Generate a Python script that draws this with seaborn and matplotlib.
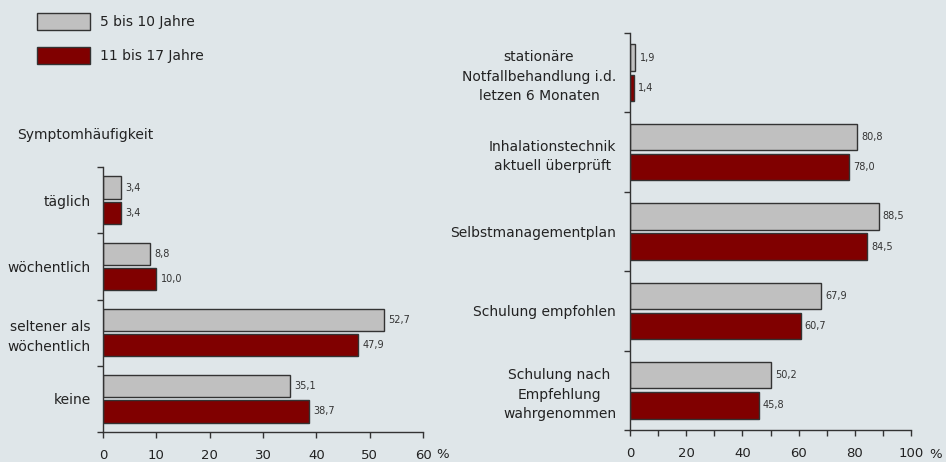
import matplotlib
matplotlib.use("Agg")
import matplotlib.pyplot as plt
from matplotlib.patches import Patch
import numpy as np
import pandas as pd
import seaborn as sns

# --------- Daten ---------
gruppen = ["5 bis 10 Jahre", "11 bis 17 Jahre"]

kat_links = ["täglich", "wöchentlich", "seltener als\nwöchentlich", "keine"]
jung_links = [3.4, 8.8, 52.7, 35.1]
alt_links = [3.4, 10.0, 47.9, 38.7]

kat_rechts = [
    "stationäre\nNotfallbehandlung i.d.\nletzen 6 Monaten",
    "Inhalationstechnik\naktuell überprüft",
    "Selbstmanagementplan",
    "Schulung empfohlen",
    "Schulung nach\nEmpfehlung\nwahrgenommen",
]
jung_rechts = [1.9, 80.8, 88.5, 67.9, 50.2]
alt_rechts = [1.4, 78.0, 84.5, 60.7, 45.8]

farben = {gruppen[0]: "#c0c0c0", gruppen[1]: "#800000"}
hintergrund = "#dfe6e9"
kante = "#333333"


def long_df(kat, jung, alt):
    return pd.DataFrame({
        "kategorie": kat * 2,
        "wert": jung + alt,
        "gruppe": [gruppen[0]] * len(kat) + [gruppen[1]] * len(kat),
    })


sns.set_style("ticks")
plt.rcParams["font.family"] = ["DejaVu Sans"]

fig = plt.figure(figsize=(9.46, 4.62), dpi=100, facecolor=hintergrund)
ax1 = fig.add_axes([103 / 946, 1 - 432 / 462, 320 / 946, 265 / 462])
ax2 = fig.add_axes([630 / 946, 1 - 430 / 462, 281 / 946, 397 / 462])


def zeichne(ax, df, kat, xmax, major, minor, ml):
    ax.set_facecolor(hintergrund)
    sns.barplot(data=df, y="kategorie", x="wert", hue="gruppe", order=kat,
                hue_order=gruppen, palette=farben, saturation=1, orient="h",
                width=0.76, gap=0.12, edgecolor=kante, linewidth=1,
                legend=False, ax=ax)
    for cont in ax.containers:
        ax.bar_label(cont, labels=[f"{v:.1f}".replace(".", ",") for v in cont.datavalues],
                     padding=3, fontsize=7, color="#333333")
    ax.set_xlim(0, xmax)
    ax.set_ylim(len(kat) - 0.5, -0.5)
    ax.set_xticks(major)
    if minor is not None:
        ax.set_xticks(minor, minor=True)
    ax.set_yticks(range(len(kat)))
    ax.set_yticklabels(kat, fontsize=10, color="#222222", multialignment=ml,
                       linespacing=1.5)
    ax.set_yticks(np.arange(-0.5, len(kat), 1), minor=True)
    ax.tick_params(axis="y", which="major", length=0, pad=9)
    ax.tick_params(axis="y", which="minor", length=4, width=1, color=kante)
    ax.tick_params(axis="x", which="both", length=4, width=1, color=kante,
                   labelsize=9.5, labelcolor="#222222", pad=8)
    ax.set_xlabel("")
    ax.set_ylabel("")
    sns.despine(ax=ax)
    for s in ["left", "bottom"]:
        ax.spines[s].set_color(kante)
        ax.spines[s].set_linewidth(1)


zeichne(ax1, long_df(kat_links, jung_links, alt_links), kat_links, 60,
        range(0, 61, 10), None, "right")
zeichne(ax2, long_df(kat_rechts, jung_rechts, alt_rechts), kat_rechts, 100,
        range(0, 101, 20), range(0, 101, 10), "center")
ax2.tick_params(axis="y", which="major", pad=10)

fig.text(443 / 946, 1 - 455 / 462, "%", fontsize=9.5, ha="center", va="center", color="#222222")
fig.text(936 / 946, 1 - 455 / 462, "%", fontsize=9.5, ha="center", va="center", color="#222222")
fig.text(17 / 946, 1 - 135 / 462, "Symptomhäufigkeit", fontsize=10, ha="left", va="center",
         color="#222222")

handles = [Patch(facecolor=farben[g], edgecolor=kante, linewidth=1, label=g) for g in gruppen]
fig.legend(handles=handles, loc="upper left", bbox_to_anchor=(37 / 946, 1 - 13 / 462),
           frameon=False, fontsize=10, handlelength=3.8, handleheight=1.55,
           handletextpad=0.7, labelspacing=1.2, borderpad=0, borderaxespad=0,
           labelcolor="#222222")

plt.savefig("out.png", dpi=100, facecolor=hintergrund)
